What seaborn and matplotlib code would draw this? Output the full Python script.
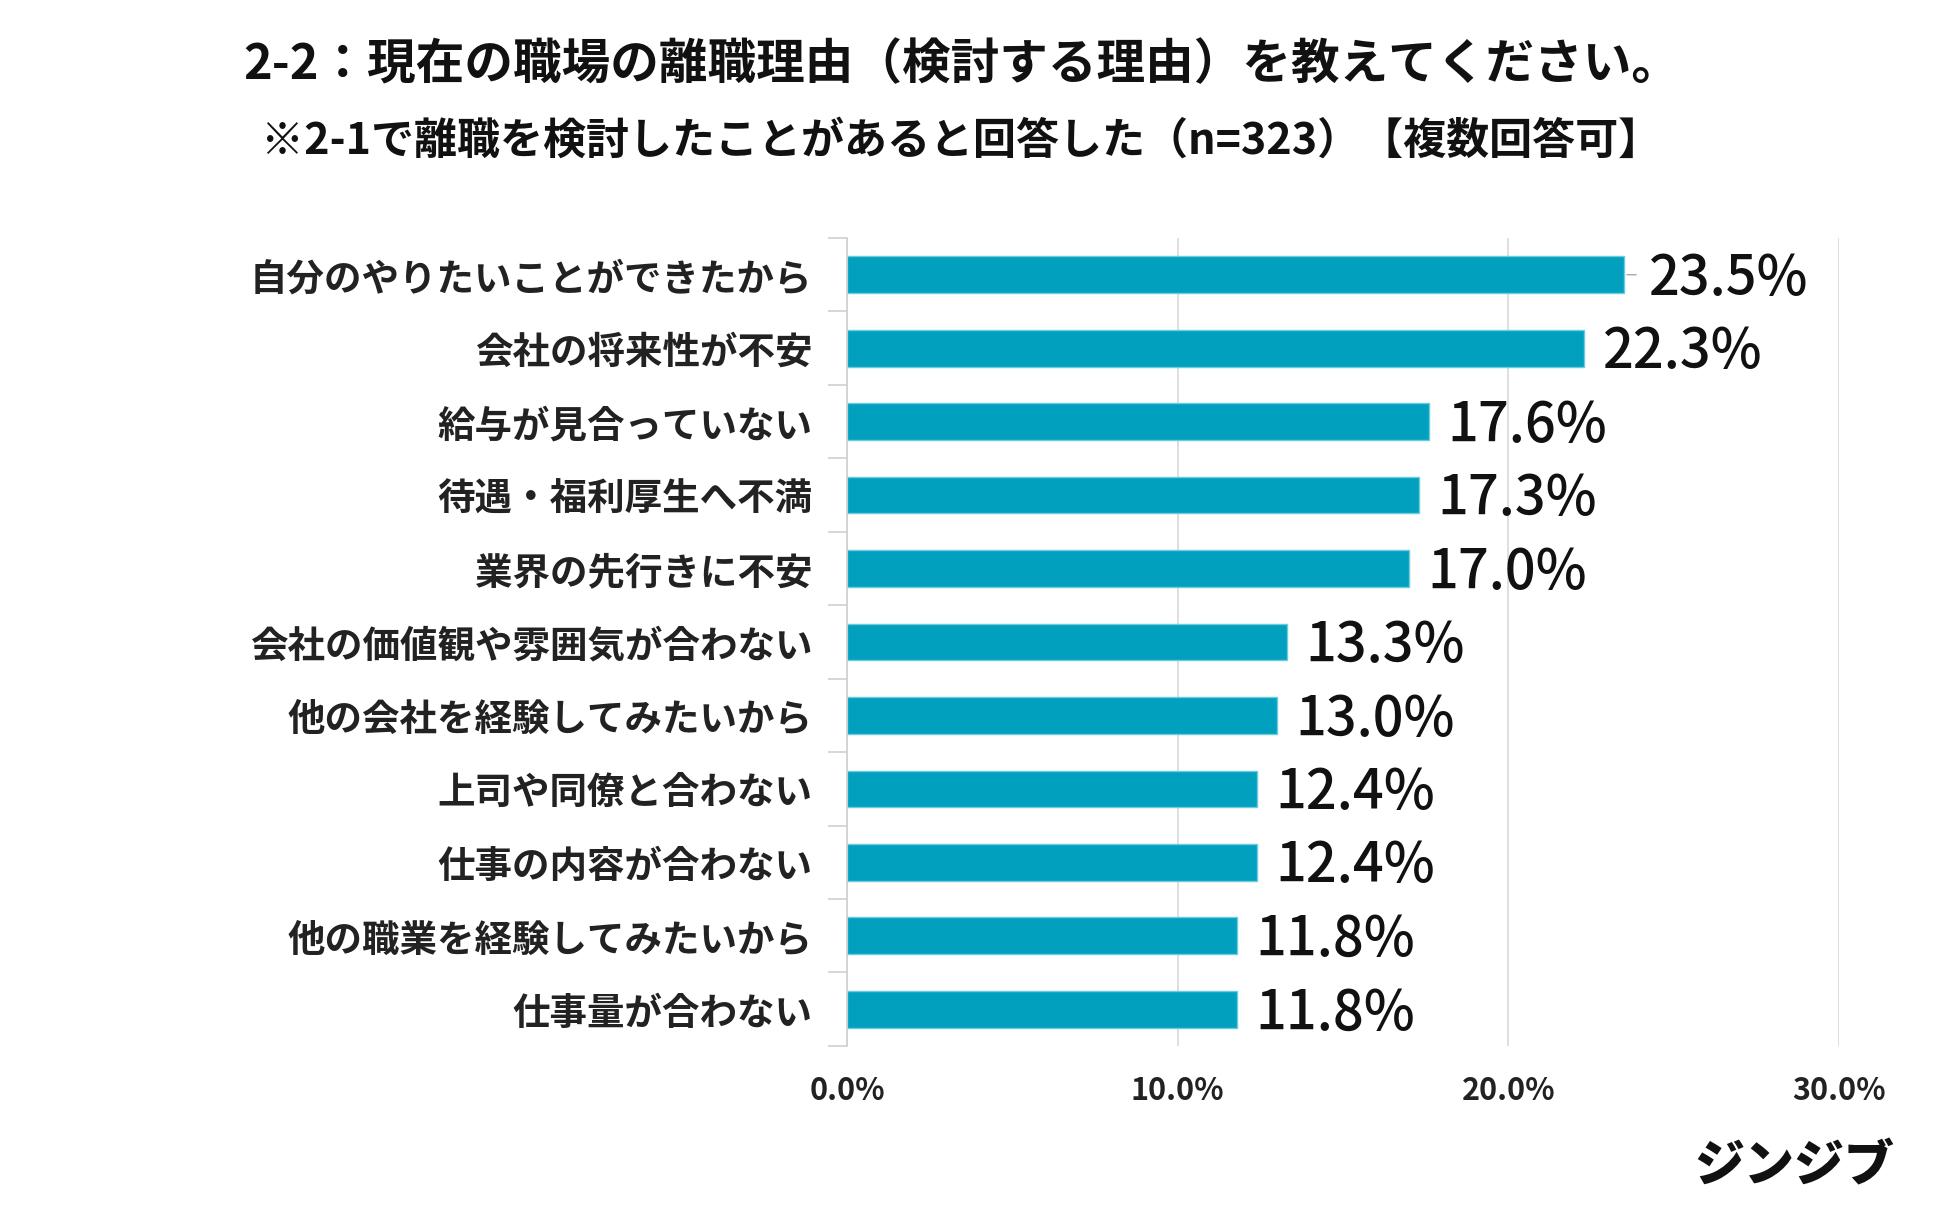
import matplotlib
matplotlib.use("Agg")
import matplotlib.pyplot as plt
import seaborn as sns
import pandas as pd
from matplotlib.ticker import FixedLocator

# データ
reasons = [
    "自分のやりたいことができたから",
    "会社の将来性が不安",
    "給与が見合っていない",
    "待遇・福利厚生へ不満",
    "業界の先行きに不安",
    "会社の価値観や雰囲気が合わない",
    "他の会社を経験してみたいから",
    "上司や同僚と合わない",
    "仕事の内容が合わない",
    "他の職業を経験してみたいから",
    "仕事量が合わない",
]
rates = [23.5, 22.3, 17.6, 17.3, 17.0, 13.3, 13.0, 12.4, 12.4, 11.8, 11.8]
x_ticks = [0, 10, 20, 30]
x_tick_labels = ["0.0%", "10.0%", "20.0%", "30.0%"]

df = pd.DataFrame({"reason": reasons, "rate": rates})

sns.set_theme(style="white")
plt.rcParams["font.family"] = ["Noto Sans CJK JP", "DejaVu Sans"]

fig = plt.figure(figsize=(19.5, 12.05), dpi=100)
ax = fig.add_axes([0.4344, 0.132, 0.5087, 0.6705])

sns.barplot(data=df, x="rate", y="reason", orient="h", color="#00A0BE",
            saturation=1, width=0.5, edgecolor="#6CCBDD", linewidth=1, ax=ax)

ax.set_xlim(0, 30)
ax.xaxis.set_major_locator(FixedLocator(x_ticks))
ax.set_xticklabels(x_tick_labels, fontsize=22, fontweight="bold", color="#222222")
ax.tick_params(axis="x", length=0, pad=21)

# カテゴリの区切り線(左の小さな目盛り)
ax.yaxis.set_minor_locator(FixedLocator([i - 0.5 for i in range(len(reasons) + 1)]))
ax.tick_params(axis="y", which="minor", length=14, width=1.2, color="#d0d0d0", left=True)
ax.tick_params(axis="y", which="major", length=0, pad=25)
for lbl in ax.get_yticklabels():
    lbl.set_fontsize(27)
    lbl.set_fontweight("bold")
    lbl.set_color("#222222")

ax.grid(axis="x", color="#d9d9d9", linewidth=1.2)
ax.set_axisbelow(True)
for s in ["top", "right", "bottom"]:
    ax.spines[s].set_visible(False)
ax.spines["left"].set_color("#d0d0d0")
ax.spines["left"].set_linewidth(1.2)
ax.set_xlabel("")
ax.set_ylabel("")

# 数値ラベル
for i, v in enumerate(rates):
    off = 18 if i == 0 else 13
    ax.annotate(f"{v:.1f}%", xy=(v, i), xytext=(off, -3), textcoords="offset points",
                va="center", ha="left", fontsize=39, fontweight="medium", color="#111111")
    if i == 0:
        ax.annotate("", xy=(v, i), xytext=(v + 0.45, i),
                    arrowprops=dict(arrowstyle="-", color="#aaaaaa", lw=1))

fig.text(0.493, 0.946, "2-2：現在の職場の離職理由（検討する理由）を教えてください。",
         ha="center", va="center", fontsize=35, fontweight="bold", color="#111111")
fig.text(0.493, 0.883, "※2-1で離職を検討したことがあると回答した（n=323）【複数回答可】",
         ha="center", va="center", fontsize=31, fontweight="bold", color="#111111")
fig.text(0.92, 0.032, "ジンジブ", ha="center", va="center", fontsize=36,
         fontweight="heavy", color="#111111")

fig.savefig("out.png", dpi=100, facecolor="white")
